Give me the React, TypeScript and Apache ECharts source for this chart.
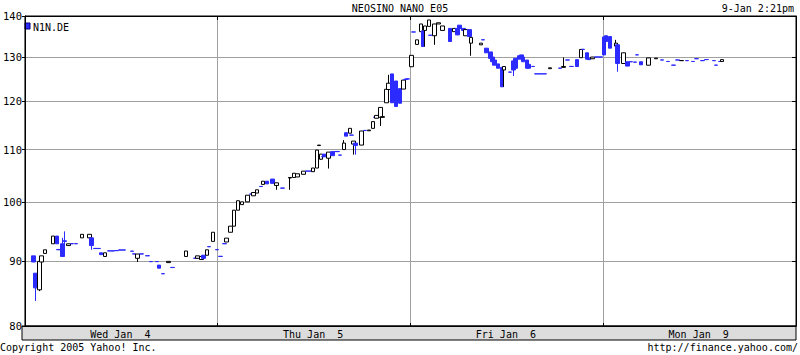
import React, { useEffect, useRef } from 'react';
import * as echarts from 'echarts';

const chartTitle = 'NEOSINO NANO E05';
const timeStamp = '9-Jan 2:21pm';
const symbolName = 'N1N.DE';
const dayLabels = ['Wed Jan  4', 'Thu Jan  5', 'Fri Jan  6', 'Mon Jan  9'];
const slotsPerDay = 100;
const yTickLabels = [80, 90, 100, 110, 120, 130, 140];

// [slot, open, close, low?, high?]
const wedCandles: number[][] = [
  [4, 90.8, 89.8], [5, 88.0, 85.7, 83.7], [7, 85.4, 89.9, 85.2], [8, 89.8, 90.8],
  [10, 91.2, 91.8], [14, 92.8, 94.1], [16, 94.1, 92.8], [17, 91.85, 91.8],
  [19, 92.8, 90.7, 90.7, 93.8], [20, 93.3, 93.2, 92.2, 94.9], [22, 92.5, 92.8],
  [24, 92.83, 92.8], [26, 92.83, 92.8], [29, 93.8, 94.4], [33, 93.8, 94.4],
  [34, 93.8, 92.5, 91.8], [36, 92.03, 92.0], [38, 92.03, 92.0], [39, 91.3, 91.0],
  [41, 90.7, 91.3], [43, 91.63, 91.6], [45, 91.63, 91.6], [47, 91.68, 91.65],
  [49, 91.78, 91.75], [51, 91.78, 91.75], [55, 91.58, 91.55], [56, 91.13, 91.1],
  [58, 90.4, 91.1, 89.8], [60, 91.13, 91.1], [63, 90.83, 90.8], [65, 89.88, 89.85],
  [68, 89.88, 89.85], [69, 89.3, 88.8], [71, 87.93, 87.9], [74, 89.7, 89.9],
  [76, 88.93, 88.9], [83, 90.7, 91.6], [88, 90.43, 90.4], [89, 90.4, 90.8],
  [91, 90.2, 90.7], [92, 90.9, 90.4], [94, 90.9, 91.8], [95, 92.33, 92.3],
  [97, 93.2, 94.75], [99, 91.83, 91.8],
];

const thuCandles: number[][] = [
  [1, 90.73, 90.7], [3, 92.83, 92.8], [4, 93.1, 93.75], [6, 94.75, 95.8],
  [8, 95.8, 98.6], [10, 98.6, 100.3], [12, 99.6, 100.1], [15, 100.1, 101.3],
  [17, 101.53, 101.5], [18, 101.2, 101.8], [20, 101.7, 102.3], [22, 102.93, 102.9],
  [23, 103.3, 103.9], [25, 103.9, 103.4], [28, 104.3, 103.5], [30, 103.1, 103.6, 102.3],
  [33, 102.63, 102.6], [37, 104.5, 104.6, 102.3], [39, 104.6, 105.4], [41, 104.7, 105.3],
  [44, 105.2, 105.8], [46, 105.83, 105.8], [48, 105.83, 105.8], [49, 105.7, 106.4],
  [51, 106.4, 109.9], [52, 110.8, 110.9], [53, 108.1, 109.1, 108.0], [54, 108.63, 108.6],
  [55, 109.1, 108.6], [57, 108.3, 109.5, 106.3], [59, 109.6, 108.8], [61, 109.63, 109.6],
  [62, 109.63, 109.6], [63, 108.93, 108.9], [65, 110.0, 111.3, 110.0, 111.9],
  [66, 113.4, 112.7], [68, 113.3, 114.3], [69, 112.93, 112.9], [70, 111.1, 111.7, 109.0],
  [71, 111.3, 110.8, 109.0], [74, 110.9, 113.75], [76, 113.88, 113.85], [78, 113.8, 113.95],
  [80, 114.3, 115.7], [81, 116.63, 116.6], [82, 116.4, 117.0], [84, 116.6, 118.7, 114.8],
  [85, 116.6, 116.75], [87, 119.7, 122.65], [88, 122.6, 124.0, 122.6, 125.9],
  [90, 126.1, 119.7], [92, 124.5, 118.9], [94, 122.8, 119.6], [96, 122.7, 124.7],
  [97, 124.88, 124.85], [98, 124.98, 124.95],
];

const friCandles: number[][] = [
  [0, 127.75, 130.4], [1, 136.03, 136.0], [3, 133.0, 134.1], [5, 136.1, 138.0],
  [6, 136.3, 132.5], [7, 136.4, 137.5, 132.5], [9, 137.4, 139.0], [10, 135.23, 135.2],
  [12, 135.1, 138.0, 132.9], [14, 138.0, 138.3], [16, 136.4, 137.5], [20, 136.9, 133.7],
  [22, 136.1, 136.9], [24, 136.9, 135.3], [25, 137.7, 136.9], [27, 136.9, 136.4],
  [28, 135.1, 136.6], [30, 136.6, 134.9], [31, 133.3, 134.7, 130.3], [36, 132.9, 133.3],
  [37, 134.13, 134.1], [39, 132.1, 131.0], [41, 131.2, 129.7], [42, 130.0, 128.9],
  [43, 129.3, 128.1], [45, 128.4, 127.4], [47, 127.6, 123.2], [48, 127.0, 127.8, 123.2],
  [51, 126.53, 126.5], [53, 129.1, 127.0, 125.6], [54, 129.7, 127.4], [56, 130.3, 129.5],
  [57, 130.5, 129.7], [58, 130.0, 128.9], [60, 129.3, 127.4], [61, 128.3, 127.4],
  [63, 127.83, 127.8], [65, 126.13, 126.1], [67, 126.13, 126.1], [69, 126.13, 126.1],
  [72, 127.3, 127.5], [77, 127.43, 127.4], [79, 127.6, 127.8, 127.6, 129.9],
  [81, 129.33, 129.3], [83, 127.83, 127.8], [86, 129.4, 127.8], [88, 129.85, 131.8],
  [89, 131.83, 131.8], [91, 131.0, 129.5], [92, 129.7, 129.4], [94, 129.6, 130.0],
  [96, 130.03, 130.0], [98, 130.03, 130.0],
];

const monCandles: number[][] = [
  [0, 134.8, 130.5], [1, 135.1, 133.7], [3, 134.9, 132.1], [6, 132.6, 133.3, 132.6, 134.1],
  [7, 132.9, 128.5, 126.6], [10, 128.5, 131.0], [12, 128.9, 127.9], [14, 128.93, 128.9],
  [16, 128.83, 128.8], [17, 130.53, 130.5], [19, 128.9, 128.2], [23, 128.1, 129.8],
  [27, 129.6, 129.75], [30, 129.33, 129.3], [33, 128.98, 128.95], [36, 128.13, 128.1],
  [38, 129.33, 129.3], [40, 129.15, 129.2], [43, 129.18, 129.15], [46, 128.98, 128.95],
  [48, 129.63, 129.6], [51, 129.18, 129.15], [53, 129.43, 129.4], [57, 129.18, 129.15],
  [58, 128.13, 128.1], [60, 128.98, 128.95], [61, 128.95, 129.4],
];

const BLUE = '#2b2bff';
const FONT = 'DejaVu Sans Mono';

function buildData() {
  const days = [wedCandles, thuCandles, friCandles, monCandles];
  const categories: string[] = [];
  const values: any[] = [];
  days.forEach((day, d) => {
    const bySlot = new Map<number, number[]>();
    day.forEach((c) => bySlot.set(c[0], c));
    for (let s = 0; s < slotsPerDay; s++) {
      categories.push(dayLabels[d] + '|' + s);
      const c = bySlot.get(s);
      if (!c) {
        values.push(['-', '-', '-', '-']);
        continue;
      }
      const o = c[1];
      const cl = c[2];
      const lo = Math.min(o, cl, c[3] !== undefined ? c[3] : Infinity);
      const hi = Math.max(o, cl, c[4] !== undefined ? c[4] : -Infinity);
      values.push([Math.log(o), Math.log(cl), Math.log(lo), Math.log(hi)]);
    }
  });
  return { categories, values };
}

export default function App() {
  const ref = useRef<HTMLDivElement>(null);
  useEffect(() => {
    if (!ref.current) return;
    const chart = echarts.init(ref.current, undefined, { renderer: 'svg' });
    const { categories, values } = buildData();
    const yVals = yTickLabels.map((v) => Math.log(v));
    const isBoundary = (i: number) => i % slotsPerDay === 0 && i > 0;
    chart.setOption({
      animation: false,
      backgroundColor: '#ffffff',
      textStyle: { fontFamily: FONT },
      grid: {
        left: 22, right: 4, top: 16, bottom: 29,
        show: true, borderColor: '#000', borderWidth: 1,
      },
      xAxis: [
        {
          type: 'category',
          data: categories,
          boundaryGap: true,
          axisLine: { show: true, lineStyle: { color: '#000', width: 1 } },
          axisTick: { show: true, inside: true, length: 3, interval: isBoundary, lineStyle: { color: '#000' } },
          axisLabel: {
            interval: (i: number) => i % slotsPerDay === 49,
            formatter: (v: string) => v.split('|')[0],
            color: '#000', fontSize: 10, margin: 3, fontFamily: FONT,
          },
          splitLine: { show: true, interval: isBoundary, lineStyle: { color: '#a0a0a0', width: 1 } },
        },
        {
          type: 'category',
          position: 'top',
          data: categories,
          boundaryGap: true,
          axisLine: { show: true, lineStyle: { color: '#000', width: 1 } },
          axisTick: { show: true, inside: true, length: 4, interval: isBoundary, lineStyle: { color: '#000' } },
          axisLabel: { show: false },
          splitLine: { show: false },
        },
      ],
      yAxis: [
        {
          type: 'value',
          min: Math.log(80),
          max: Math.log(140),
          axisLine: { show: true, lineStyle: { color: '#000', width: 1 } },
          axisTick: { show: true, length: 3, customValues: yVals, lineStyle: { color: '#000' } },
          axisLabel: {
            customValues: yVals,
            formatter: (v: number) => String(Math.round(Math.exp(v))),
            color: '#000', fontSize: 10.5, margin: 3, fontFamily: FONT,
          },
          splitLine: { show: true, lineStyle: { color: '#a0a0a0', width: 1 } },
        },
        {
          type: 'value',
          position: 'right',
          min: Math.log(80),
          max: Math.log(140),
          axisLine: { show: true, lineStyle: { color: '#000', width: 1 } },
          axisTick: { show: true, inside: true, length: 4, customValues: yVals, lineStyle: { color: '#000' } },
          axisLabel: { show: false },
          splitLine: { show: false },
        },
      ],
      series: [
        {
          type: 'candlestick',
          xAxisIndex: 0,
          yAxisIndex: 0,
          data: values,
          barWidth: 4,
          itemStyle: {
            color: '#ffffff',
            color0: BLUE,
            borderColor: '#000000',
            borderColor0: BLUE,
            borderWidth: 1,
          },
        },
      ],
      graphic: [
        {
          type: 'rect', z: -10,
          shape: { x: 22, y: 326, width: 774, height: 14 },
          style: { fill: '#dcdcdc', stroke: '#000', lineWidth: 1 },
        },
        {
          type: 'text', x: 400, y: 8,
          style: { text: chartTitle, fill: '#000', font: '10px "DejaVu Sans Mono"', textAlign: 'center', textVerticalAlign: 'middle' },
        },
        {
          type: 'text', x: 794, y: 8,
          style: { text: timeStamp, fill: '#000', font: '10px "DejaVu Sans Mono"', textAlign: 'right', textVerticalAlign: 'middle' },
        },
        {
          type: 'rect',
          shape: { x: 25, y: 23, width: 5, height: 6 },
          style: { fill: BLUE, stroke: '#000080', lineWidth: 1 },
        },
        {
          type: 'text', x: 33, y: 27,
          style: { text: symbolName, fill: '#000', font: '10px "DejaVu Sans Mono"', textAlign: 'left', textVerticalAlign: 'middle' },
        },
        {
          type: 'text', x: 0, y: 347,
          style: { text: 'Copyright 2005 Yahoo! Inc.', fill: '#000', font: '10px "DejaVu Sans Mono"', textAlign: 'left', textVerticalAlign: 'middle' },
        },
        {
          type: 'text', x: 798, y: 347,
          style: { text: 'http://finance.yahoo.com/', fill: '#000', font: '10px "DejaVu Sans Mono"', textAlign: 'right', textVerticalAlign: 'middle' },
        },
      ],
    });
    return () => chart.dispose();
  }, []);
  return (
    <div
      ref={ref}
      style={{ position: 'fixed', left: 0, top: 0, width: 800, height: 355, background: '#fff' }}
    />
  );
}
